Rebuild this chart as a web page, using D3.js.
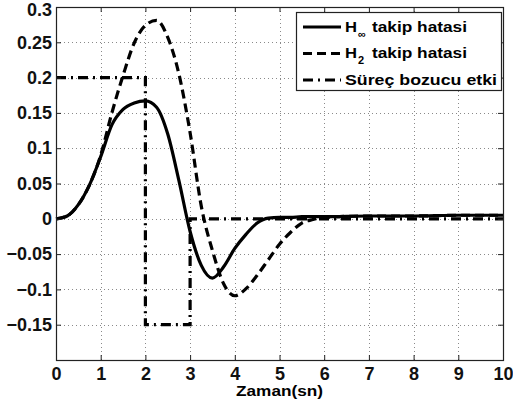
<!DOCTYPE html>
<html>
<head>
<meta charset="utf-8">
<script src="https://cdn.jsdelivr.net/npm/d3@7"></script>
<style>
  body { margin: 0; background: #fff; }
  svg { display: block; font-family: "Liberation Sans", Arial, sans-serif; font-weight: bold; }
</style>
</head>
<body>
<div id="chart"></div>
<script>
// time samples (sn) and values
const times = [0, 0.25, 0.5, 0.75, 1, 1.25, 1.5, 1.75, 2, 2.25, 2.5, 2.75, 3, 3.25, 3.5, 3.75, 4, 4.25, 4.5, 4.75, 5, 5.25, 5.5, 5.75, 6, 7, 8, 9, 10];
const hInfError = [0, 0.004, 0.02, 0.048, 0.088, 0.133, 0.155, 0.164, 0.167, 0.158, 0.12, 0.054, -0.018, -0.066, -0.084, -0.068, -0.042, -0.022, -0.006, 0.001, 0.002, 0.002, 0.003, 0.003, 0.003, 0.004, 0.004, 0.005, 0.005];
const h2Error = [0, 0.004, 0.02, 0.048, 0.09, 0.15, 0.203, 0.249, 0.274, 0.281, 0.257, 0.205, 0.122, 0.018, -0.045, -0.092, -0.109, -0.099, -0.08, -0.058, -0.036, -0.019, -0.006, -0.001, 0.002, 0.004, 0.004, 0.005, 0.005];
const distTimes = [0, 2, 2, 3, 3, 10];
const disturbance = [0.2, 0.2, -0.15, -0.15, 0, 0];

const xTicks = [0, 1, 2, 3, 4, 5, 6, 7, 8, 9, 10];
const yTicks = [-0.15, -0.1, -0.05, 0, 0.05, 0.1, 0.15, 0.2, 0.25, 0.3];
const yTickLabels = ["\u22120.15", "\u22120.1", "\u22120.05", "0", "0.05", "0.1", "0.15", "0.2", "0.25", "0.3"];
const legendNames = ["H", "H", "S\u00fcre\u00e7 bozucu etki"];
const legendSubs = ["\u221e", "2", ""];
const legendRest = ["takip hatasi", "takip hatasi", ""];

const W = 513, H = 405;
const m = {left: 56, right: 503, top: 7, bottom: 360};

const svg = d3.select("#chart").append("svg")
    .attr("width", W)
    .attr("height", H);

const x = d3.scaleLinear().domain([0, 10]).range([m.left, m.right]);
const y = d3.scaleLinear().domain([-0.2, 0.3]).range([m.bottom, m.top]);

// grid
const grid = svg.append("g").attr("stroke", "#8a8a8a").attr("stroke-width", 1).attr("stroke-dasharray", "1,3");
grid.selectAll(".vg").data(xTicks.slice(1, -1)).enter().append("line")
    .attr("x1", d => Math.round(x(d)) + 0.5).attr("x2", d => Math.round(x(d)) + 0.5)
    .attr("y1", m.top).attr("y2", m.bottom);
grid.selectAll(".hg").data(yTicks.slice(0, -1)).enter().append("line")
    .attr("y1", d => Math.round(y(d)) + 0.5).attr("y2", d => Math.round(y(d)) + 0.5)
    .attr("x1", m.left).attr("x2", m.right);

// curves
const curveLine = d3.line().x(d => x(d[0])).y(d => y(d[1])).curve(d3.curveMonotoneX);
const stepLine = d3.line().x(d => x(d[0])).y(d => y(d[1]));

const series = [
    {data: times.map((t, i) => [t, hInfError[i]]), dash: null, gen: curveLine},
    {data: times.map((t, i) => [t, h2Error[i]]), dash: "9,5", gen: curveLine},
    {data: distTimes.map((t, i) => [t, disturbance[i]]), dash: "10,5,2,5", gen: stepLine}
];

series.forEach(s => {
    svg.append("path")
        .attr("d", s.gen(s.data))
        .attr("fill", "none")
        .attr("stroke", "#000")
        .attr("stroke-width", 3.2)
        .attr("stroke-dasharray", s.dash);
});

// axes (ticks inward, MATLAB style)
const axisStyle = g => {
    g.select(".domain").remove();
    g.selectAll(".tick line").attr("stroke", "#222");
    g.selectAll("text").attr("font-size", 18).attr("font-weight", "bold").attr("fill", "#111");
};

svg.append("g").attr("transform", `translate(0,${m.bottom})`)
    .call(d3.axisBottom(x).tickValues(xTicks).tickSizeInner(-5).tickSizeOuter(0).tickPadding(7))
    .call(axisStyle);
svg.append("g").attr("transform", `translate(0,${m.top})`)
    .call(d3.axisTop(x).tickValues(xTicks).tickSizeInner(-5).tickSizeOuter(0).tickFormat(""))
    .call(axisStyle);
const yAxisG = svg.append("g").attr("transform", `translate(${m.left},0)`)
    .call(d3.axisLeft(y).tickValues(yTicks).tickSizeInner(-5).tickSizeOuter(0).tickPadding(4)
        .tickFormat((d, i) => yTickLabels[i]))
    .call(axisStyle);
// keep the top label inside the picture
yAxisG.selectAll(".tick text").filter(d => d === 0.3).attr("y", 3);
svg.append("g").attr("transform", `translate(${m.right},0)`)
    .call(d3.axisRight(y).tickValues(yTicks).tickSizeInner(-5).tickSizeOuter(0).tickFormat(""))
    .call(axisStyle);

svg.append("rect")
    .attr("x", m.left + 0.5).attr("y", m.top + 0.5)
    .attr("width", m.right - m.left).attr("height", m.bottom - m.top)
    .attr("fill", "none").attr("stroke", "#222").attr("stroke-width", 1.2);

// x label
svg.append("text")
    .attr("x", 236).attr("y", 396)
    .attr("font-size", 15)
    .attr("textLength", 87).attr("lengthAdjust", "spacingAndGlyphs")
    .text("Zaman(sn)");

// legend
const lg = svg.append("g");
lg.append("rect")
    .attr("x", 296.5).attr("y", 12.5).attr("width", 205).attr("height", 78)
    .attr("fill", "#fff").attr("stroke", "#222").attr("stroke-width", 1.2);

const rowY = [27, 53.5, 80];
const rowBase = [32, 58, 85];
series.forEach((s, i) => {
    lg.append("line")
        .attr("x1", 303).attr("x2", 341)
        .attr("y1", rowY[i]).attr("y2", rowY[i])
        .attr("stroke", "#000").attr("stroke-width", 3.2)
        .attr("stroke-dasharray", s.dash);
    if (legendSubs[i]) {
        lg.append("text").attr("x", 345).attr("y", rowBase[i]).attr("font-size", 15)
            .attr("textLength", 12).attr("lengthAdjust", "spacingAndGlyphs").text(legendNames[i]);
        lg.append("text").attr("x", 358).attr("y", rowBase[i] + 6).attr("font-size", 11).text(legendSubs[i]);
        lg.append("text").attr("x", 372).attr("y", rowBase[i]).attr("font-size", 15)
            .attr("textLength", 95).attr("lengthAdjust", "spacingAndGlyphs").text(legendRest[i]);
    } else {
        lg.append("text").attr("x", 345).attr("y", rowBase[i]).attr("font-size", 15)
            .attr("textLength", 152).attr("lengthAdjust", "spacingAndGlyphs").text(legendNames[i]);
    }
});
</script>
</body>
</html>
